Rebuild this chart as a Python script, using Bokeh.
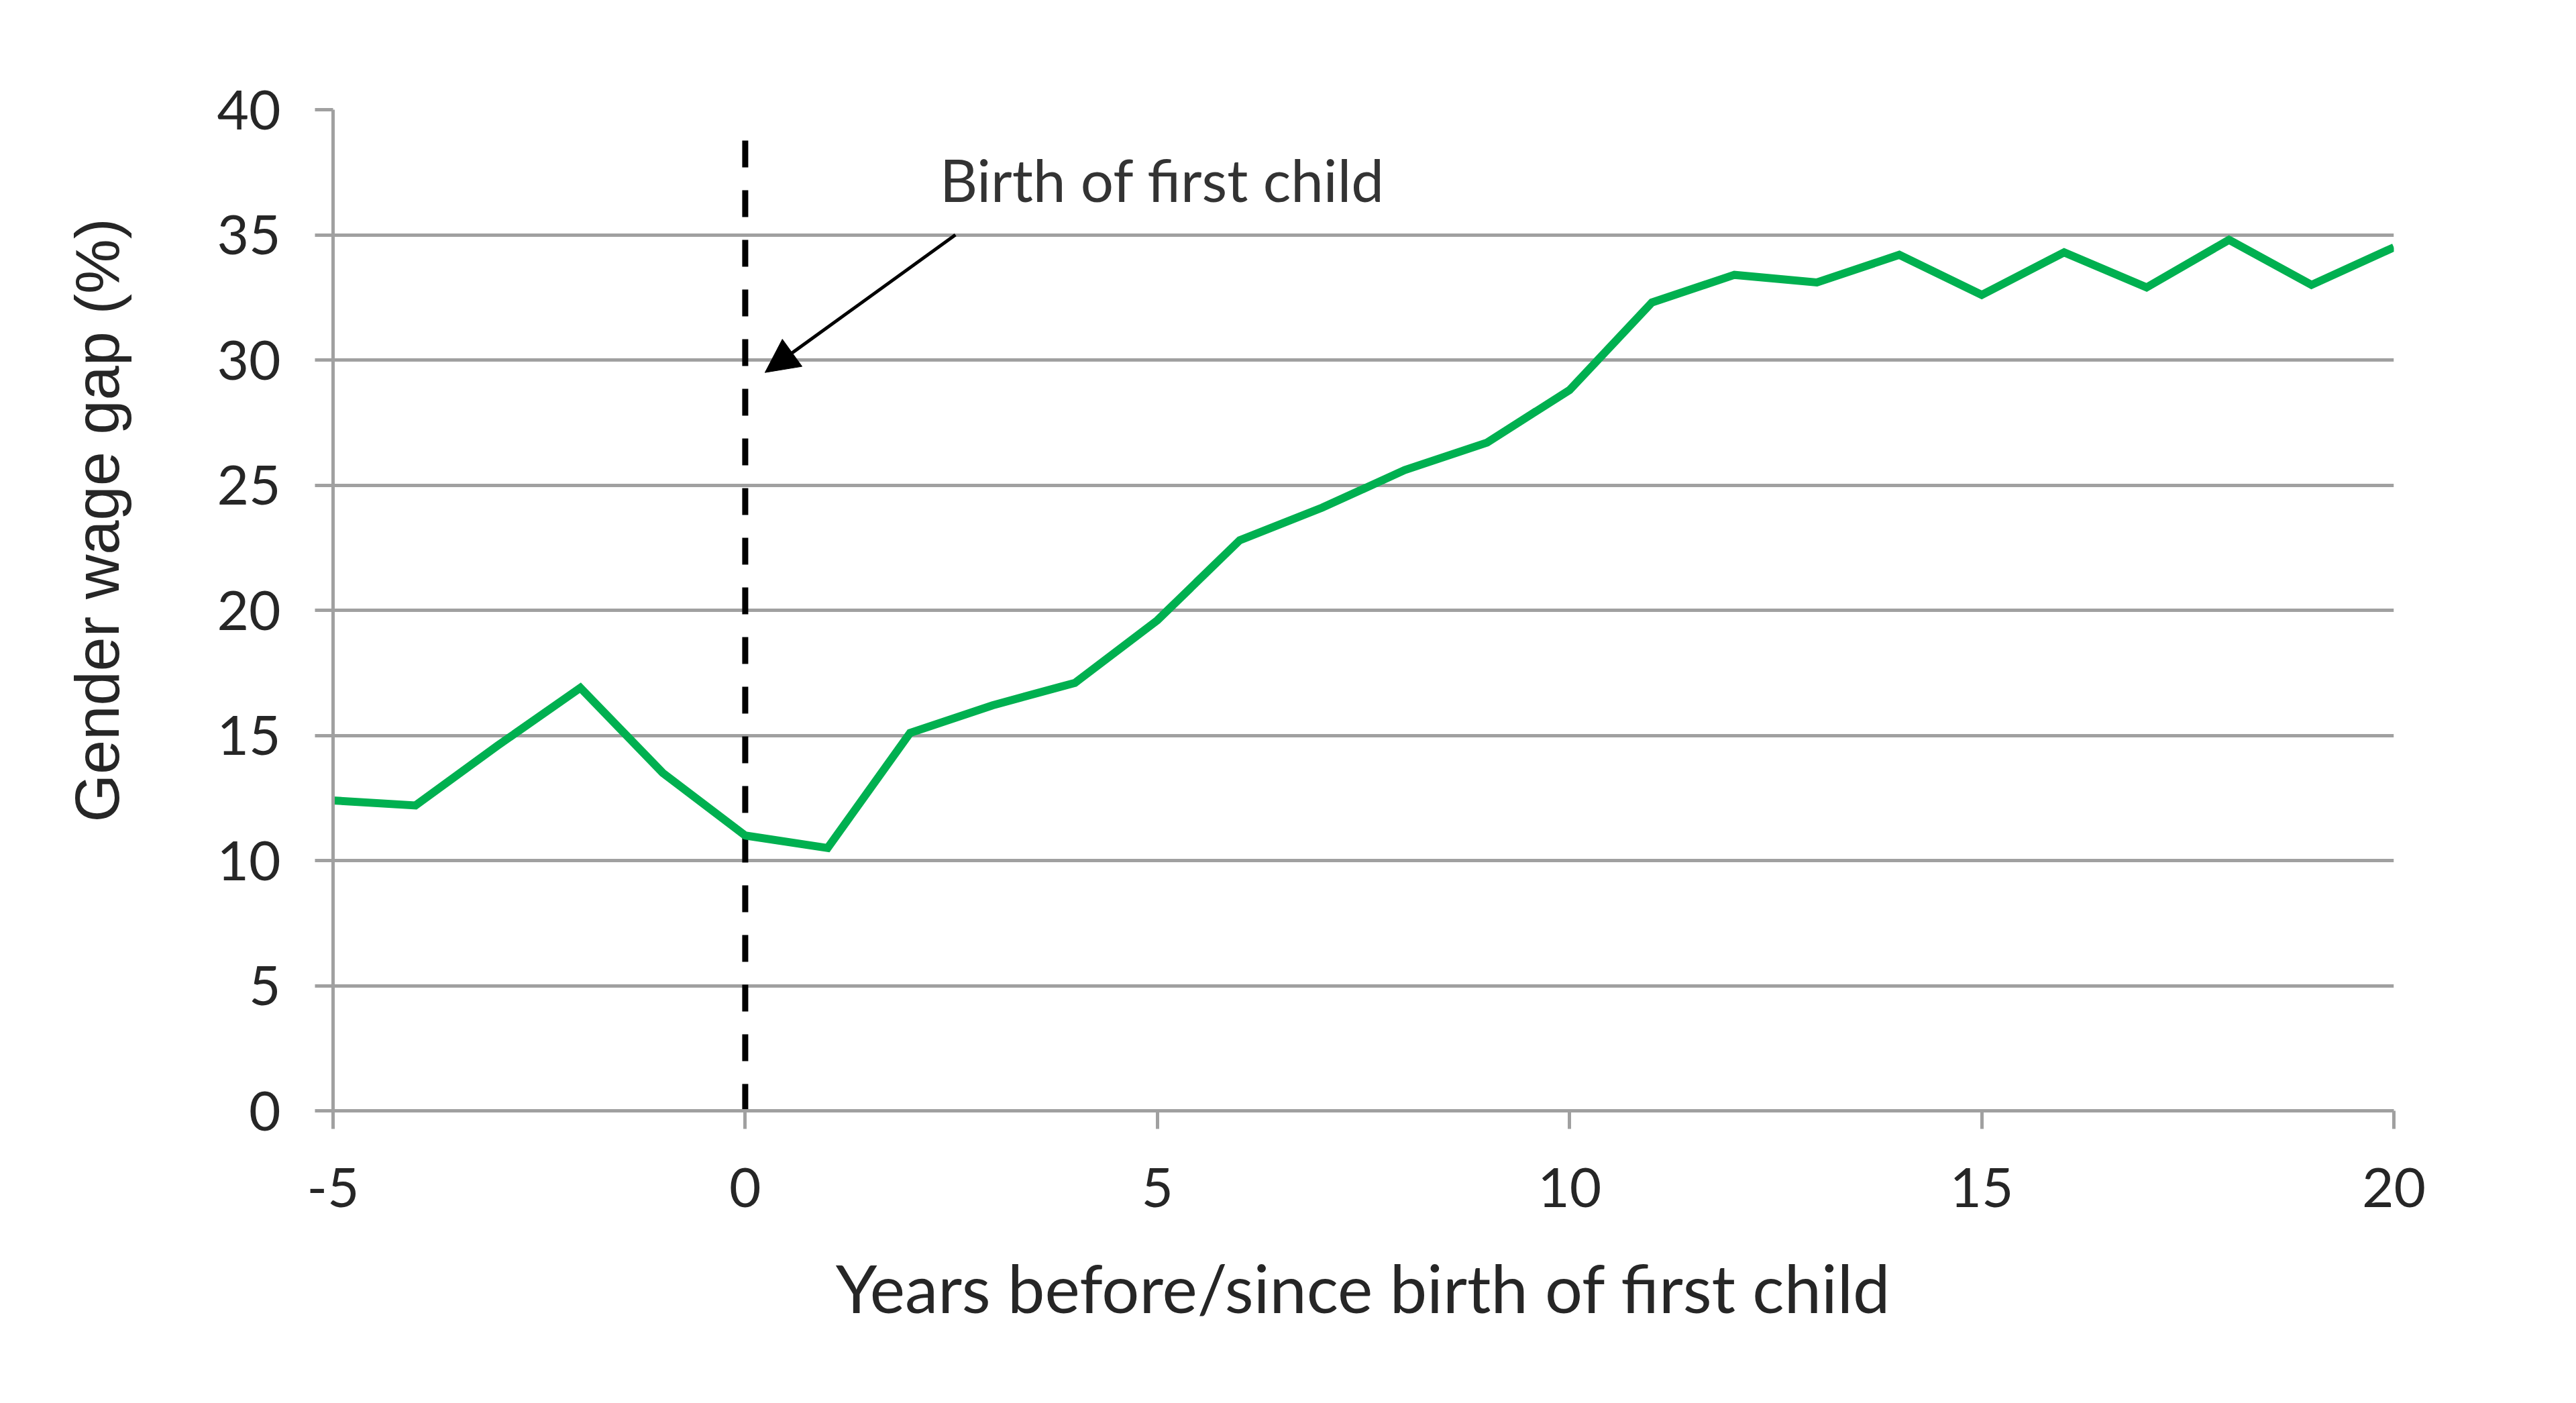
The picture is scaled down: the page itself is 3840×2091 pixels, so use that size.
from bokeh.plotting import figure
from bokeh.models import Range1d, Label, Arrow, NormalHead, FixedTicker, Title
from bokeh.embed import file_html
from bokeh.resources import INLINE

# ---- data ----
years = [-5, -4, -3, -2, -1, 0, 1, 2, 3, 4, 5, 6, 7, 8, 9, 10,
         11, 12, 13, 14, 15, 16, 17, 18, 19, 20]
wage_gap = [12.4, 12.2, 14.6, 16.9, 13.5, 11.0, 10.5, 15.1, 16.2, 17.1, 19.6,
            22.8, 24.1, 25.6, 26.7, 28.8, 32.3, 33.4, 33.1, 34.2, 32.6,
            34.3, 32.9, 34.8, 33.0, 34.5]
x_ticks = [-5, 0, 5, 10, 15, 20]
y_ticks = [0, 5, 10, 15, 20, 25, 30, 35, 40]
x_tick_labels = {-5: "-5", 0: "0", 5: "5", 10: "10", 15: "15", 20: "20"}
event_year = 0
event_label = "Birth of first child"
x_title = "Years before/since birth of first child"
y_title = "Gender wage gap (%)"

GRID = "#a0a0a0"
TXT = "#262626"

p = figure(width=3824, height=2075,
           x_range=Range1d(-5, 20), y_range=Range1d(0, 40),
           output_backend="svg", toolbar_location=None,
           min_border_left=496, min_border_right=256,
           min_border_top=163, min_border_bottom=420)
p.outline_line_color = None
p.background_fill_color = "white"
p.border_fill_color = "white"

p.xgrid.visible = False
p.ygrid.grid_line_color = GRID
p.ygrid.grid_line_width = 5
p.ygrid.ticker = FixedTicker(ticks=y_ticks)

# y axis
p.yaxis.ticker = FixedTicker(ticks=y_ticks)
p.yaxis.axis_line_color = GRID
p.yaxis.axis_line_width = 5
p.yaxis.major_tick_line_color = GRID
p.yaxis.major_tick_line_width = 5
p.yaxis.major_tick_out = 27
p.yaxis.major_tick_in = 0
p.yaxis.minor_tick_line_color = None
p.yaxis.major_label_text_font = "Lato"
p.yaxis.major_label_text_font_size = "82px"
p.yaxis.major_label_text_color = TXT
p.yaxis.major_label_standoff = 51

# x axis
p.xaxis.ticker = FixedTicker(ticks=x_ticks)
p.xaxis.major_label_overrides = x_tick_labels
p.xaxis.axis_line_color = GRID
p.xaxis.axis_line_width = 5
p.xaxis.major_tick_line_color = GRID
p.xaxis.major_tick_line_width = 5
p.xaxis.major_tick_out = 27
p.xaxis.major_tick_in = 0
p.xaxis.minor_tick_line_color = None
p.xaxis.major_label_text_font = "Lato"
p.xaxis.major_label_text_font_size = "82px"
p.xaxis.major_label_text_color = TXT
p.xaxis.major_label_standoff = 58

# axis titles (side panels)
p.add_layout(Title(text=x_title, align="center", text_font="Lato",
                   text_font_size="99px", text_font_style="normal",
                   text_color=TXT, standoff=110), "below")
# spacer between y tick labels and y title
p.add_layout(Title(text=" ", text_font_size="10px", standoff=112), "left")
p.add_layout(Title(text=y_title, align="left", text_font="Liberation Sans",
                   text_font_size="92px", text_font_style="normal",
                   text_color=TXT, standoff=0, offset=430), "left")

# dashed event line
p.segment(x0=event_year, y0=0, x1=event_year, y1=39.2,
          line_color="black", line_width=9, line_dash="40 34")

# data line
p.line(years, wage_gap, line_color="#00B050", line_width=12, line_join="miter")

# annotation
p.add_layout(Arrow(end=NormalHead(size=50, fill_color="black", line_color="black"),
                   x_start=2.55, y_start=35.0, x_end=event_year + 0.24, y_end=29.5,
                   line_color="black", line_width=5))
p.add_layout(Label(x=2.36, y=37.2, text=event_label, text_font="Lato",
                   text_font_size="87px", text_color="#333333",
                   text_baseline="alphabetic", text_align="left"))

open("out.html", "w").write(file_html(p, INLINE))
